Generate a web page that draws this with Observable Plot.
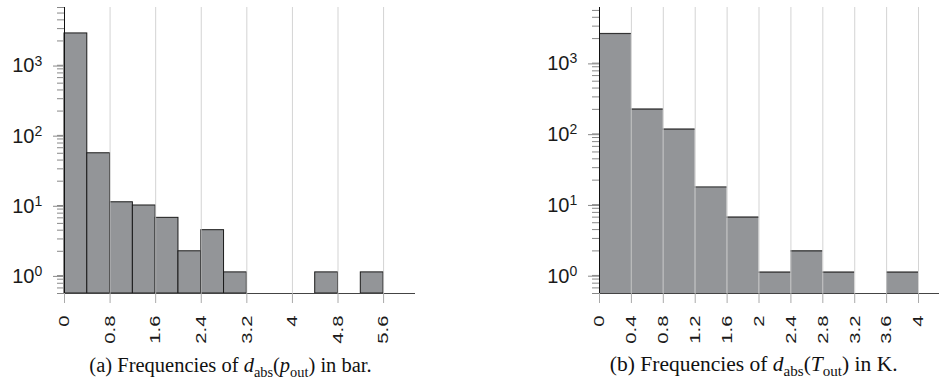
<!DOCTYPE html>
<html><head><meta charset="utf-8">
<script src="https://cdn.jsdelivr.net/npm/d3@7"></script>
<script src="https://cdn.jsdelivr.net/npm/@observablehq/plot@0.6"></script>
<style>
body{margin:0;background:#fff}
#wrap{position:relative;width:939px;height:383px;overflow:hidden;background:#fff}
.panel{position:absolute;top:0}
.cap{position:absolute;top:355px;font-family:"Liberation Serif","Times New Roman",serif;font-size:20.5px;line-height:1;white-space:nowrap;transform:translateX(-50%);color:#111}
.cap sub{font-size:0.7em;vertical-align:baseline;position:relative;top:0.32em}
</style></head>
<body><div id="wrap"></div>
<script>
// ---- data ----
const binWidth = 0.4;
// (a) d_abs(p_out) in bar
const pBinStarts = [0, 0.4, 0.8, 1.2, 1.6, 2.0, 2.4, 2.8, 3.2, 3.6, 4.0, 4.4, 4.8, 5.2];
const pCounts    = [2560, 50, 10, 9, 6, 2, 4, 1, 0, 0, 0, 1, 0, 1];
const pTicks     = [0, 0.8, 1.6, 2.4, 3.2, 4, 4.8, 5.6];
// (b) d_abs(T_out) in K
const tBinStarts = [0, 0.4, 0.8, 1.2, 1.6, 2.0, 2.4, 2.8, 3.2, 3.6];
const tCounts    = [2360, 202, 105, 16, 6, 1, 2, 1, 0, 1];
const tTicks     = [0, 0.4, 0.8, 1.2, 1.6, 2, 2.4, 2.8, 3.2, 3.6, 4];
// y axis (log)
const yMajor = [1, 10, 100, 1000];
const minorMult = [2, 3, 4, 5, 6, 7, 8, 9];

const FILL = "#939598";
const font = "'Liberation Sans', Arial, Helvetica, sans-serif";

function makePanel({starts, counts, ticks, xmax, ymax, width, marginLeft, marginRight, outlined}) {
  const bins = starts.map((s, i) => ({x1: s, x2: s + binWidth, count: counts[i]})).filter(d => d.count > 0);
  const minors = [0.5, 0.6, 0.7, 0.8, 0.9].concat(yMajor.flatMap(m => minorMult.map(k => k * m))).filter(v => v <= ymax);
  const marks = [
    Plot.rectY(bins, {x1: "x1", x2: "x2", y1: 0.5, y2: "count", fill: FILL,
      stroke: outlined ? "#1a1a1a" : "none", strokeWidth: 1}),
  ];
  if (!outlined) marks.push(Plot.ruleY(bins, {x1: "x1", x2: "x2", y: "count", stroke: "#333", strokeWidth: 1.2}));
  marks.push(
    Plot.ruleX(ticks.filter(t => t > 0), {stroke: "#c8c8c8", strokeOpacity: 0.8}),
    Plot.ruleY([0.5], {stroke: "#444"}),
    Plot.ruleX([0], {stroke: "#111"}),
    Plot.axisY(minors, {tickSize: 7, tickFormat: () => "", stroke: "#888", label: null}),
    Plot.axisY(yMajor, {tickSize: 11, tickPadding: 19, tickFormat: () => "10", fontSize: 20, dy: 4, stroke: "#888", fill: "#1a1a1a", label: null}),
    Plot.text(yMajor, {y: d => d, text: d => String(Math.round(Math.log10(d))), frameAnchor: "left",
      textAnchor: "start", lineAnchor: "bottom", dx: -30, dy: 3.5, fontSize: 14, fill: "#1a1a1a"}),
    Plot.axisX(ticks, {tickSize: 10, tickPadding: 12, tickRotate: -90, fontSize: 15, stroke: "#aaa", fill: "#1a1a1a",
      tickFormat: d => String(d), label: null})
  );
  return Plot.plot({
    width, height: 350,
    marginTop: 7, marginBottom: 57, marginLeft, marginRight,
    style: {fontFamily: font, background: "transparent", overflow: "visible"},
    x: {domain: [0, xmax], axis: null},
    y: {type: "log", domain: [0.5, ymax], axis: null},
    marks
  });
}

const wrap = document.getElementById("wrap");
const left = makePanel({starts: pBinStarts, counts: pCounts, ticks: pTicks, xmax: 6.16, ymax: 6000,
  width: 470, marginLeft: 64, marginRight: 55, outlined: true});
const right = makePanel({starts: tBinStarts, counts: tCounts, ticks: tTicks, xmax: 4.263, ymax: 5500,
  width: 469, marginLeft: 129, marginRight: 0, outlined: false});
left.classList.add("panel"); left.style.left = "0px";
right.classList.add("panel"); right.style.left = "470px";
wrap.appendChild(left); wrap.appendChild(right);

// widen the rotated x tick labels along their reading direction, as in the reference
for (const svg of [left, right]) {
  svg.querySelectorAll('g[aria-label="x-axis tick label"] text').forEach(el => {
    const t = el.getAttribute("transform") || "";
    el.setAttribute("transform", t + " scale(1.35,1)");
  });
}

const capA = document.createElement("div");
capA.className = "cap"; capA.style.left = "230.5px";
capA.innerHTML = "(a) Frequencies of <i>d</i><sub>abs</sub>(<i>p</i><sub>out</sub>) in bar.";
const capB = document.createElement("div");
capB.className = "cap"; capB.style.left = "753.7px"; capB.style.fontSize = "21.5px"; capB.style.top = "354px";
capB.innerHTML = "(b) Frequencies of <i>d</i><sub>abs</sub>(<i>T</i><sub>out</sub>) in K.";
wrap.appendChild(capA); wrap.appendChild(capB);
</script>
</body></html>
